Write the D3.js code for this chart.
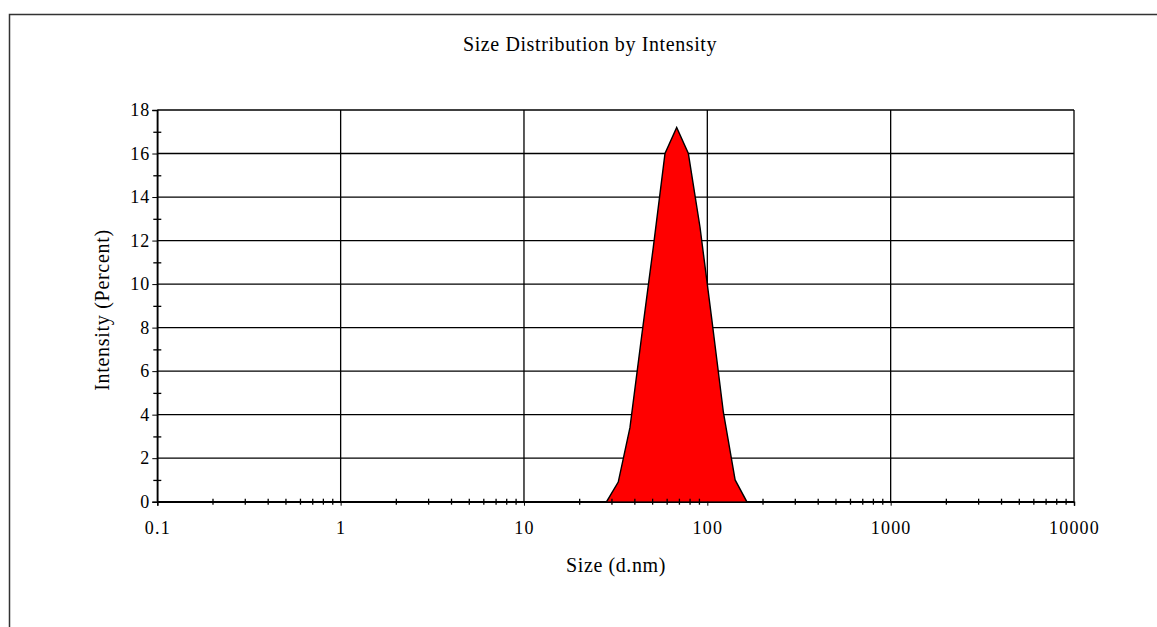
<!DOCTYPE html>
<html>
<head>
<meta charset="utf-8">
<script src="https://cdn.jsdelivr.net/npm/d3@7"></script>
<style>
body { margin: 0; background: #fff; }
text { font-family: "Liberation Serif", "Times New Roman", serif; fill: #000; }
</style>
</head>
<body>
<div id="chart"></div>
<script>
var width = 1157;
var height = 627;

// size classes (d.nm)
var sizes = [0.4, 0.4632, 0.5365, 0.6213, 0.7195, 0.8332, 0.9649, 1.117, 1.294, 1.499,
    1.736, 2.01, 2.328, 2.696, 3.122, 3.615, 4.187, 4.849, 5.615, 6.503,
    7.531, 8.721, 10.1, 11.7, 13.54, 15.69, 18.17, 21.04, 24.36, 28.21,
    32.67, 37.84, 43.82, 50.75, 58.77, 68.06, 78.82, 91.28, 105.7, 122.4,
    141.8, 164.2, 190.1, 220.2, 255.0, 295.3, 342.0, 396.1, 458.7, 531.2,
    615.1, 712.4, 825.0, 955.4, 1106, 1281, 1484, 1718, 1990, 2305,
    2669, 3091, 3580, 4145, 4801, 5560, 6439, 7456, 8635, 10000];

// intensity (percent)
var intensity = [0, 0, 0, 0, 0, 0, 0, 0, 0, 0,
    0, 0, 0, 0, 0, 0, 0, 0, 0, 0,
    0, 0, 0, 0, 0, 0, 0, 0, 0, 0,
    0.9, 3.4, 7.6, 11.7, 16.0, 17.2, 16.0, 12.6, 8.4, 4.1,
    1.0, 0, 0, 0, 0, 0, 0, 0, 0, 0,
    0, 0, 0, 0, 0, 0, 0, 0, 0, 0,
    0, 0, 0, 0, 0, 0, 0, 0, 0, 0];

var xTicks = [0.1, 1, 10, 100, 1000, 10000];
var yTicks = [0, 2, 4, 6, 8, 10, 12, 14, 16, 18];

var data = sizes.map(function(d, i) {
    return {"x": d, "y": intensity[i]};
});

var svg = d3.select("#chart")
    .append("svg")
    .attr("width", width)
    .attr("height", height);

var x = d3.scaleLog()
    .domain([0.1, 10000])
    .range([157.3, 1074]);

var y = d3.scaleLinear()
    .domain([0, 18])
    .range([501.7, 110]);

// outer frame
svg.append("path")
    .attr("d", "M9.5," + height + "V14.5H" + width)
    .attr("fill", "none")
    .attr("stroke", "#333")
    .attr("stroke-width", 1.5);

svg.append("text")
    .attr("x", 590)
    .attr("y", 51)
    .attr("text-anchor", "middle")
    .style("font-size", "20px")
    .style("letter-spacing", "0.6px")
    .text("Size Distribution by Intensity");

// grid
svg.append("g")
    .selectAll("line")
    .data(yTicks)
    .enter()
    .append("line")
    .attr("x1", x(0.1))
    .attr("x2", x(10000))
    .attr("y1", function(d) { return y(d); })
    .attr("y2", function(d) { return y(d); })
    .attr("stroke", "#000")
    .attr("stroke-width", 1.3);

svg.append("g")
    .selectAll("line")
    .data(xTicks)
    .enter()
    .append("line")
    .attr("x1", function(d) { return x(d); })
    .attr("x2", function(d) { return x(d); })
    .attr("y1", y(0))
    .attr("y2", y(18))
    .attr("stroke", "#000")
    .attr("stroke-width", 1.3);

// distribution
var area = d3.area()
    .x(function(d) { return x(d.x); })
    .y0(y(0))
    .y1(function(d) { return y(d.y); });

var line = d3.line()
    .x(function(d) { return x(d.x); })
    .y(function(d) { return y(d.y); });

svg.append("path")
    .datum(data)
    .attr("fill", "#ff0000")
    .attr("d", area);

svg.append("path")
    .datum(data)
    .attr("fill", "none")
    .attr("stroke", "#000")
    .attr("stroke-width", 1.4)
    .attr("d", line);

// axes
var minorX = [];
xTicks.slice(0, -1).forEach(function(d) {
    for (var k = 2; k < 10; k++) minorX.push(d * k);
});

svg.append("g")
    .attr("transform", "translate(0," + y(0) + ")")
    .call(d3.axisBottom(x).tickValues(minorX).tickSize(3).tickFormat(""))
    .call(function(g) {
        g.select(".domain").remove();
        g.selectAll(".tick line").attr("y1", -3).attr("stroke-width", 1.3);
    });

svg.append("g")
    .attr("transform", "translate(0," + y(0) + ")")
    .call(d3.axisBottom(x)
        .tickValues(xTicks)
        .tickSize(4)
        .tickPadding(16)
        .tickFormat(function(d) { return String(d); }))
    .call(function(g) {
        g.select(".domain").attr("stroke-width", 1.5);
        g.selectAll(".tick text")
            .style("font-size", "18px")
            .style("letter-spacing", "1.2px");
    });

var minorY = [1, 3, 5, 7, 9, 11, 13, 15, 17];

svg.append("g")
    .attr("transform", "translate(" + x(0.1) + ",0)")
    .call(d3.axisLeft(y).tickValues(minorY).tickSize(4).tickFormat(""))
    .call(function(g) {
        g.select(".domain").remove();
        g.selectAll(".tick line").attr("x1", 4).attr("stroke-width", 1.3);
    });

svg.append("g")
    .attr("transform", "translate(" + x(0.1) + ",0)")
    .call(d3.axisLeft(y).tickValues(yTicks).tickSize(5).tickPadding(2))
    .call(function(g) {
        g.select(".domain").attr("stroke-width", 1.5);
        g.selectAll(".tick text")
            .style("font-size", "18px")
            .style("letter-spacing", "1px");
    });

svg.append("text")
    .attr("x", 616)
    .attr("y", 572)
    .attr("text-anchor", "middle")
    .style("font-size", "20px")
    .style("letter-spacing", "0.6px")
    .text("Size (d.nm)");

svg.append("text")
    .attr("transform", "translate(109,310) rotate(-90)")
    .attr("text-anchor", "middle")
    .style("font-size", "20px")
    .style("letter-spacing", "0.7px")
    .text("Intensity (Percent)");
</script>
</body>
</html>
